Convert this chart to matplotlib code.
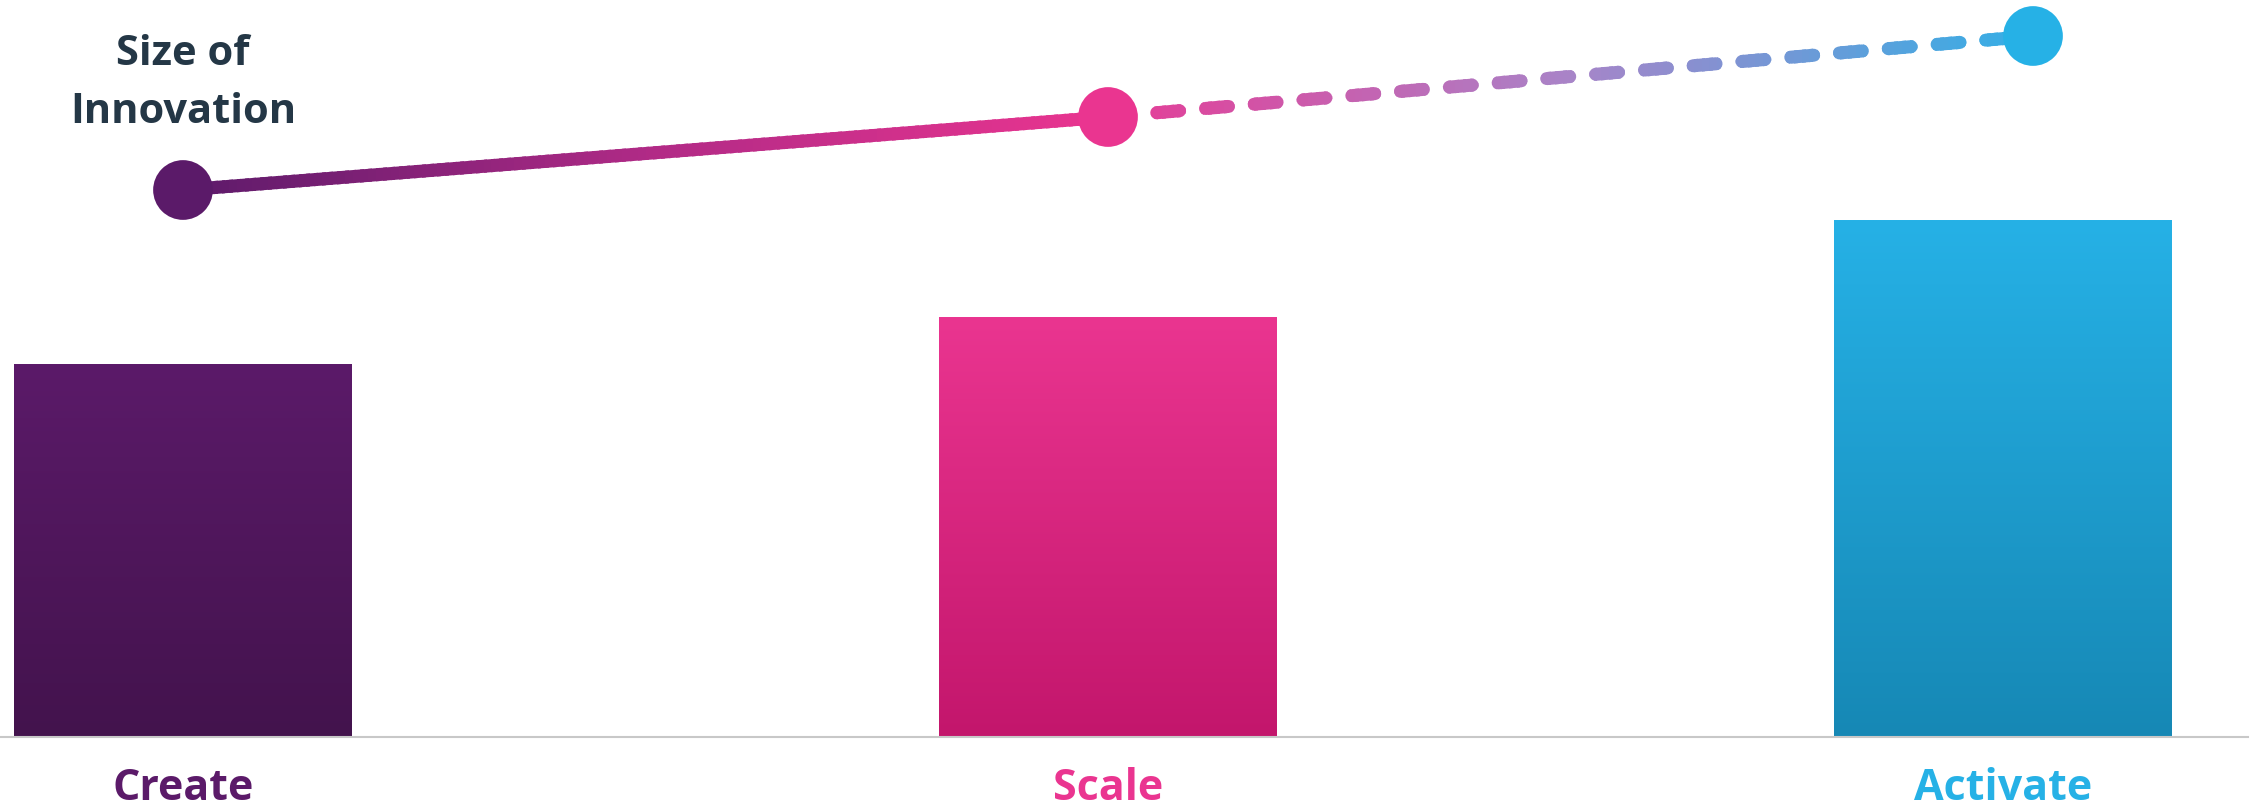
import numpy as np
import matplotlib
matplotlib.use("Agg")
import matplotlib.pyplot as plt
from matplotlib.colors import LinearSegmentedColormap
from matplotlib.patches import Rectangle

categories = ["Create", "Scale", "Activate"]
bar_values = [3.73, 4.20, 5.17]
bar_x = [0, 1, 1.968]
line_x = [0, 1, 2]
innovation = [5.47, 6.20, 7.01]

label_colors = ["#5b1a69", "#ea3590", "#26b1e6"]
bar_top = ["#5b1a69", "#ea3590", "#26b1e6"]
bar_bottom = ["#43134d", "#c3166c", "#1688b5"]
solid_stops = ["#5c1a6a", "#b02a86", "#ea3590"]
dash_stops = ["#e63c96", "#a884c8", "#33afe6"]

plt.rcParams['font.family'] = ['Open Sans', 'DejaVu Sans']

W, H = 2261, 808
fig = plt.figure(figsize=(W / 100, H / 100), dpi=100)
ax = fig.add_axes([0, 71 / H, 1, 737 / H])
ax.set_xlim(-183 / 925, (W - 183) / 925)
ax.set_ylim(0, 7.37)
ax.set_xticks([])
ax.set_yticks([])
for s in ["top", "left", "right"]:
    ax.spines[s].set_visible(False)
ax.spines["bottom"].set_color("#c8c8c8")
ax.spines["bottom"].set_linewidth(1.5)
ax.spines["bottom"].set_bounds(ax.get_xlim()[0], (2248 - 183) / 925)
ax.spines["bottom"].set_zorder(3)

# bars with vertical gradient
bars = ax.bar(bar_x, bar_values, width=338 / 925, color="none", zorder=2)
for b, top, bot in zip(bars, bar_top, bar_bottom):
    cm = LinearSegmentedColormap.from_list("g", [bot, top])
    grad = np.linspace(0, 1, 256).reshape(-1, 1)
    x0 = b.get_x()
    im = ax.imshow(grad, cmap=cm, origin="lower", aspect="auto",
                   extent=[x0, x0 + b.get_width(), 0, b.get_height()], zorder=2)
    im.set_clip_path(b)


def gradient_line(xs, ys, stops, n=120, **kw):
    cm = LinearSegmentedColormap.from_list("l", stops)
    edges = np.linspace(xs[0], xs[-1], n + 1)
    step = edges[1] - edges[0]
    for i in range(n):
        lo = edges[i] - (0.1 if i == 0 else 0)
        hi = edges[i + 1] + (0.1 if i == n - 1 else step * 0.5)
        ln, = ax.plot(xs, ys, color=cm((i + 0.5) / n), zorder=4, **kw)
        clip = Rectangle((lo, -1), hi - lo, 10, transform=ax.transData)
        ln.set_clip_path(clip)


lw = 9.4
gradient_line(line_x[:2], innovation[:2], solid_stops, lw=lw, solid_capstyle="round")
gradient_line(line_x[1:], innovation[1:], dash_stops, lw=lw,
              linestyle=(0, (1.75, 2.0)), dash_capstyle="round")

ax.scatter(line_x, innovation, s=43 ** 2, c=label_colors, zorder=5, linewidths=0)

ax.text(line_x[0], 6.72, "Size of", ha="center", va="baseline",
        fontsize=30, fontweight="bold", color="#243746")
ax.text(line_x[0], 6.14, "Innovation", ha="center", va="baseline",
        fontsize=30, fontweight="bold", color="#243746")

for x, name, c in zip(bar_x, categories, label_colors):
    ax.text(x, -0.63, name, ha="center", va="baseline", fontsize=31,
            fontweight="bold", color=c, clip_on=False)

fig.savefig("out.png", dpi=100)
